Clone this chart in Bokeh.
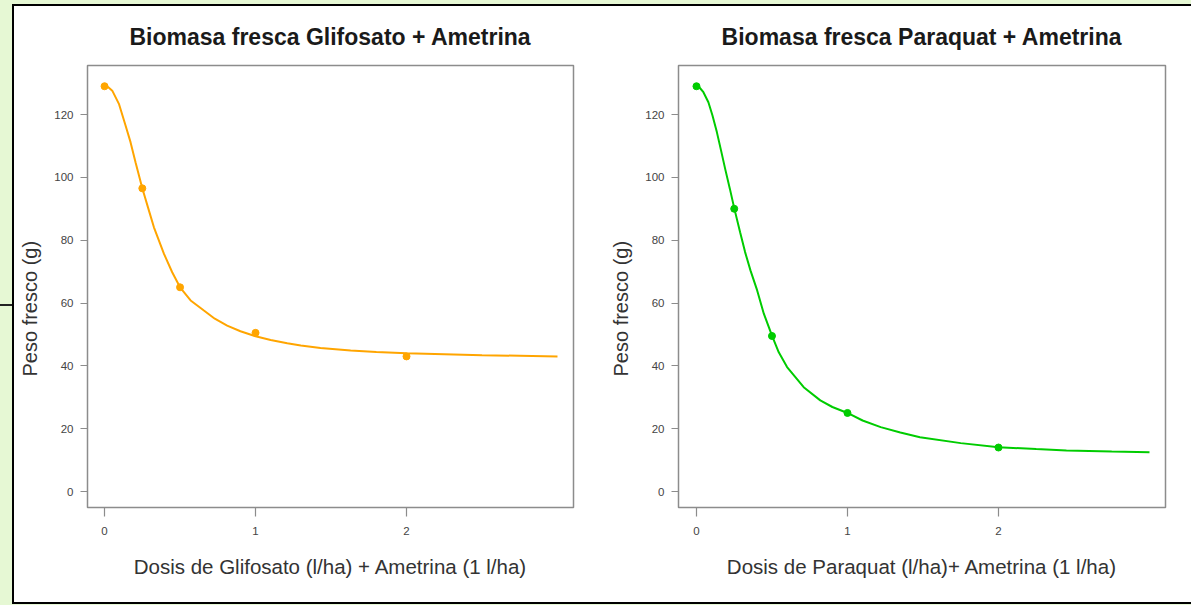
from bokeh.plotting import figure
from bokeh.layouts import row
from bokeh.models import Range1d, FixedTicker, Title
from bokeh.embed import file_html
from bokeh.resources import INLINE

# ---- data ----
gli_dose = [0, 0.25, 0.5, 1, 2]
gli_peso = [129, 96.5, 65, 50.5, 43]
gli_curve_x = [0, 0.025, 0.051, 0.095, 0.139, 0.172, 0.205, 0.25, 0.294, 0.327, 0.393,
               0.448, 0.5, 0.57, 0.658, 0.73, 0.812, 0.9, 1.0, 1.1, 1.21, 1.3, 1.43,
               1.63, 1.8, 2.0, 2.25, 2.5, 2.75, 3.0]
gli_curve_y = [129, 128.7, 127.6, 123.4, 116.5, 111.2, 104.8, 96.5, 89.4, 84.1, 75.7,
               69.8, 65, 60.8, 57.6, 55.0, 52.8, 51.0, 49.4, 48.2, 47.2, 46.5, 45.7,
               44.9, 44.4, 44.0, 43.7, 43.4, 43.2, 43.0]

par_dose = [0, 0.25, 0.5, 1, 2]
par_peso = [129, 90, 49.5, 25, 14]
par_curve_x = [0, 0.02, 0.046, 0.079, 0.106, 0.135, 0.163, 0.19, 0.221, 0.25, 0.289,
               0.322, 0.358, 0.402, 0.446, 0.5, 0.545, 0.6, 0.71, 0.82, 0.9, 1.0, 1.1,
               1.22, 1.35, 1.48, 1.75, 2.0, 2.25, 2.45, 2.75, 3.0]
par_curve_y = [129, 128.6, 127.1, 123.9, 119.7, 114.4, 108.5, 102.7, 96.4, 90.2, 82.5,
               76.2, 70.3, 64, 56.6, 49.6, 44.3, 39.6, 33.2, 29, 26.9, 25.0, 22.6,
               20.5, 18.8, 17.3, 15.4, 14.1, 13.5, 13.05, 12.7, 12.5]

x_ticks = [0, 1, 2]
y_ticks = [0, 20, 40, 60, 80, 100, 120]

FONT = "Liberation Sans"
YLABEL = "Peso fresco (g)"


def make_panel(title, xlabel, dose, peso, cx, cy, color, width, left, right, xstart):
    p = figure(width=width, height=596, output_backend="svg", toolbar_location=None,
               x_range=Range1d(xstart, 3.106), y_range=Range1d(-5.09, 135.6),
               min_border_left=left, min_border_right=right,
               min_border_top=59, min_border_bottom=95,
               background_fill_color="white", border_fill_color="white")
    p.title = Title(text=title, align="center", text_font=FONT, text_font_size="23px",
                    text_font_style="bold", text_color="#1a1a1a", standoff=31)
    p.outline_line_color = "#8c8c8c"
    p.outline_line_width = 1.5
    p.xgrid.visible = False
    p.ygrid.visible = False
    for ax in (p.xaxis[0], p.yaxis[0]):
        ax.axis_line_color = None
        ax.major_tick_line_color = "#8c8c8c"
        ax.major_tick_line_width = 1.2
        ax.minor_tick_line_color = None
        ax.major_tick_in = 0
        ax.major_label_text_font = FONT
        ax.major_label_text_font_size = "11.5px"
        ax.major_label_text_color = "#444444"
        ax.axis_label_text_font = FONT
        ax.axis_label_text_font_size = "20.5px"
        ax.axis_label_text_font_style = "normal"
        ax.axis_label_text_color = "#333333"
    p.xaxis[0].ticker = FixedTicker(ticks=x_ticks)
    p.yaxis[0].ticker = FixedTicker(ticks=y_ticks)
    p.xaxis[0].major_tick_out = 9
    p.yaxis[0].major_tick_out = 7
    p.xaxis[0].major_label_standoff = 10
    p.yaxis[0].major_label_standoff = 7
    p.xaxis[0].axis_label = xlabel
    p.xaxis[0].axis_label_standoff = 17
    # trailing no-break spaces shift the visible label toward the bottom, as in the reference
    p.yaxis[0].axis_label = YLABEL + "\u00a0" * 8
    p.yaxis[0].axis_label_text_font_size = "20px"
    p.yaxis[0].axis_label_standoff = 10
    p.line(cx, cy, line_color=color, line_width=2)
    p.scatter(dose, peso, size=7, fill_color=color, line_color=color)
    return p


p1 = make_panel("Biomasa fresca Glifosato + Ametrina",
                "Dosis de Glifosato (l/ha) + Ametrina (1 l/ha)",
                gli_dose, gli_peso, gli_curve_x, gli_curve_y, "#FFA500",
                587, 73, 28, -0.113)
p2 = make_panel("Biomasa fresca Paraquat + Ametrina",
                "Dosis de Paraquat (l/ha)+ Ametrina (1 l/ha)",
                par_dose, par_peso, par_curve_x, par_curve_y, "#00CC00",
                600, 77, 36, -0.119)

layout = row(p1, p2, styles={"border": "2px solid black", "margin-left": "12px",
                             "margin-top": "4px", "background-color": "white",
                             "width": "1230px"})

html = file_html(layout, INLINE, title="Biomasa fresca")
style = ("<style>html,body{margin:0;padding:0;background-color:#e6f8d4;"
         "overflow:hidden;}</style>")
i = html.rfind("</head>")
html = html[:i] + style + html[i:]
mark = ('<div style="position:absolute;left:0;top:304px;width:12px;'
        'height:2px;background:#222;"></div>')
j = html.rfind("</body>")
html = html[:j] + mark + html[j:]
open("out.html", "w").write(html)
